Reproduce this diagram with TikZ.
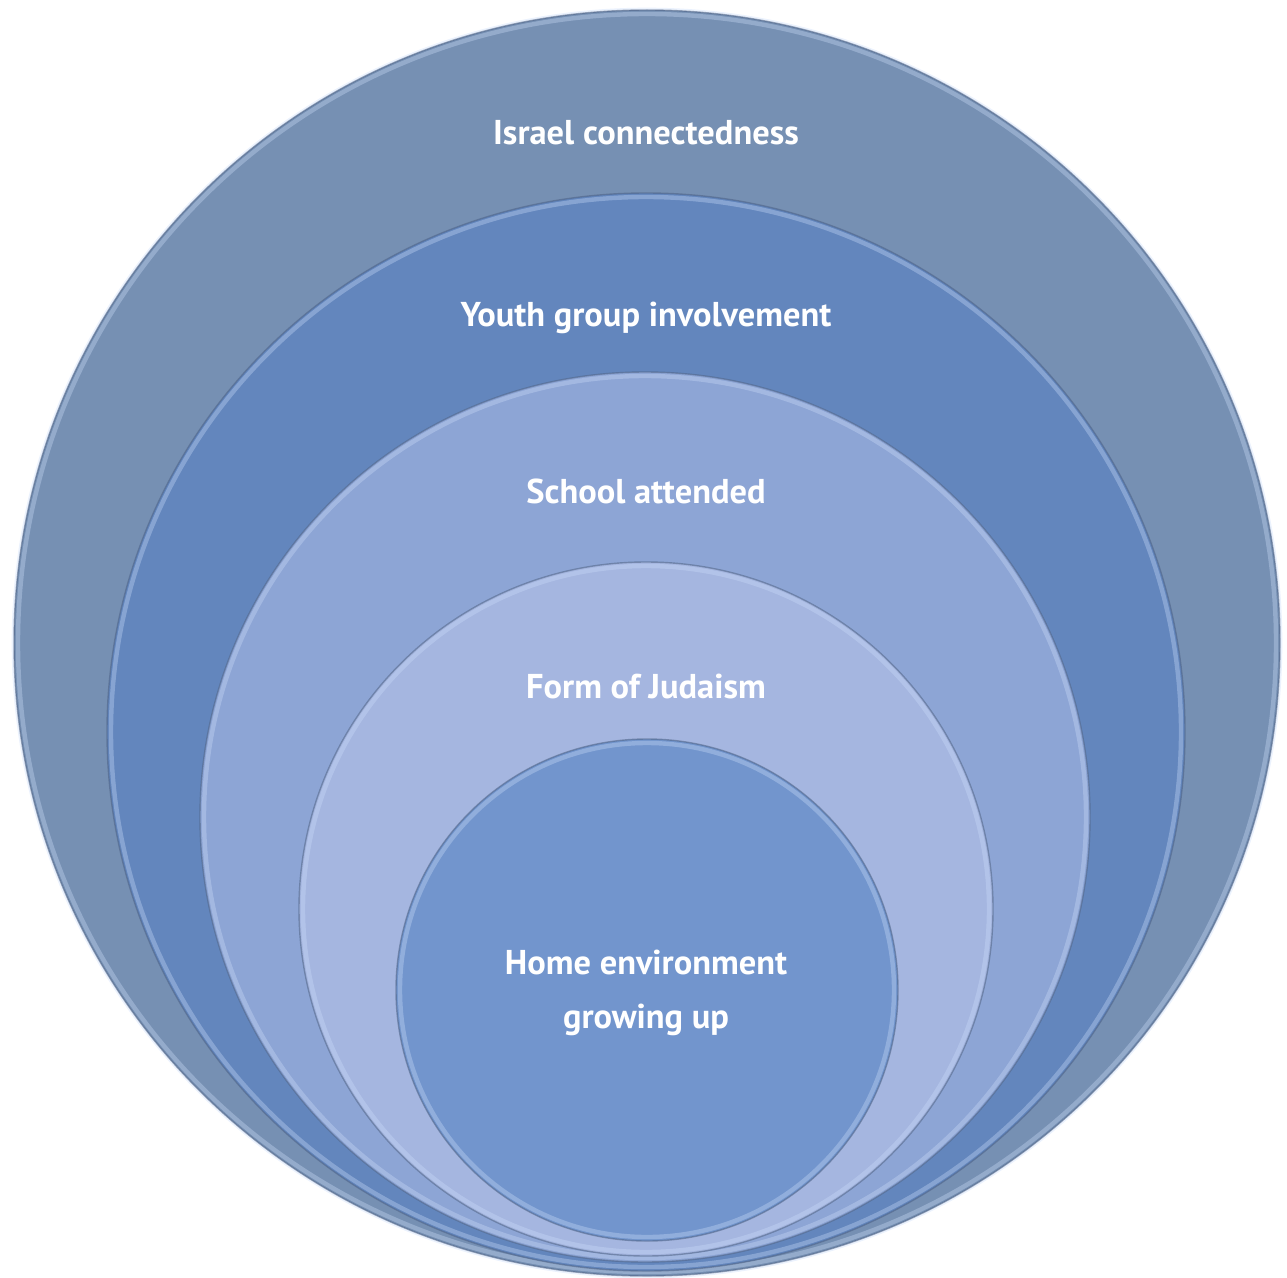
\documentclass[tikz,border=0pt]{standalone}
\usepackage{fontspec}
\setmainfont{PT Sans}
\usepackage{xcolor}
\usetikzlibrary{positioning}
\definecolor{israelblue}{RGB}{118,144,179}
\definecolor{youthblue}{RGB}{99,134,189}
\definecolor{schoolblue}{RGB}{141,165,213}
\definecolor{formblue}{RGB}{165,182,224}
\definecolor{homeblue}{RGB}{114,149,205}
\definecolor{rimshade}{RGB}{78,98,132}
\definecolor{rimlight}{RGB}{205,222,250}

\begin{document}
\begin{tikzpicture}[
  x=0.02cm, y=-0.02cm,
  every node/.style={font=\bfseries\fontsize{19.6}{30.5}\selectfont, text=white, align=center},
  disc/.style={draw=rimshade, draw opacity=0.55, line width=0.8pt},
  glint/.style={rimlight, line width=2.5pt, opacity=0.35},
]
\useasboundingbox (0,0) rectangle (1287,1277);

%% Nested discs, all resting on the same bottom point
% faint halo round the biggest one
\draw[rimlight, line width=1.5pt, opacity=0.4] (647,643) circle [radius=634];
\foreach \cx/\cy/\r/\col in {647/643/633/israelblue,
                             646/732/539/youthblue,
                             645/817/445/schoolblue,
                             646/909/347/formblue,
                             647/990/251/homeblue}
{
  \fill[\col] (\cx,\cy) circle [radius=\r];
  % soft bevel just inside the rim
  \draw[glint] (\cx,\cy) circle [radius=\r-4];
  \draw[disc] (\cx,\cy) circle [radius=\r];
}

%% Labels, one per ring
\node (israel) at (646,133) {Israel connectedness};
\node (youth)  at (646,318) {Youth group involvement};
\node (school) at (646,491) {School attended};
\node (form)   at (646,686) {Form of Judaism};
\node (home)   at (646,993) {Home environment\\growing up};

\end{tikzpicture}
\end{document}
